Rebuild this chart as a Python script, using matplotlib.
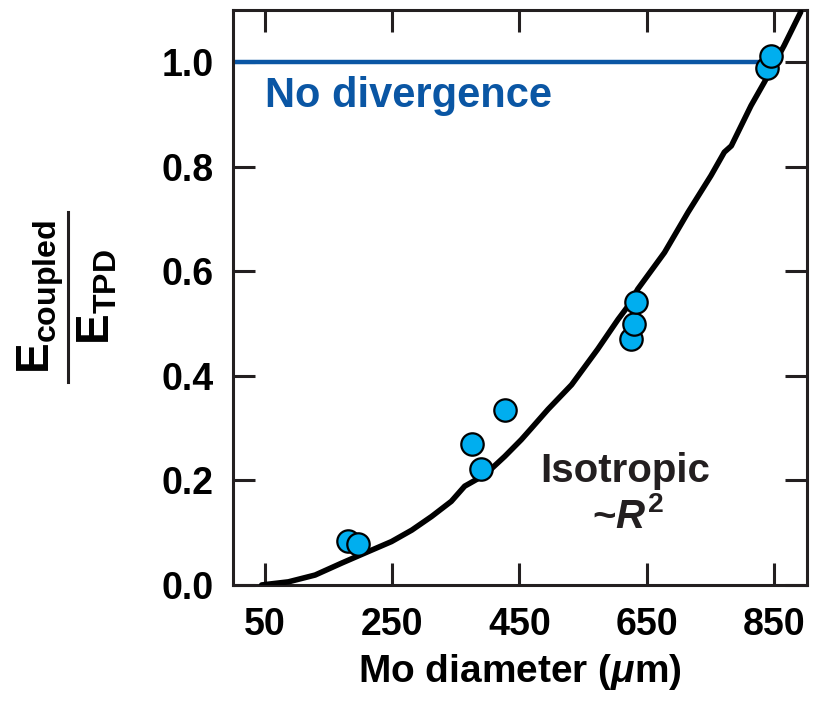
import matplotlib
matplotlib.use('Agg')
import matplotlib.pyplot as plt
from matplotlib.lines import Line2D

diam = [181, 197, 376, 389, 428, 626, 630, 634, 839, 845]
ratio = [0.085, 0.079, 0.270, 0.221, 0.334, 0.470, 0.499, 0.541, 0.989, 1.012]

# isotropic ~R^2 guide curve
curve_x = [45, 87, 129, 171, 207, 249, 281, 312, 343, 364, 396, 427, 453, 469,
           495, 532, 573, 605, 621, 636, 678, 715, 751, 772, 783, 814, 835, 866, 892]
curve_y = [0.0, 0.006, 0.019, 0.042, 0.061, 0.083, 0.105, 0.131, 0.160, 0.189,
           0.211, 0.246, 0.278, 0.300, 0.336, 0.383, 0.451, 0.508, 0.534, 0.566,
           0.636, 0.713, 0.783, 0.828, 0.840, 0.917, 0.962, 1.032, 1.096]

xticks = [50, 250, 450, 650, 850]
yticks = [0.0, 0.2, 0.4, 0.6, 0.8, 1.0]

plt.rcParams['font.family'] = ['Liberation Sans', 'DejaVu Sans']
plt.rcParams['font.weight'] = 'bold'
plt.rcParams['mathtext.fontset'] = 'custom'
plt.rcParams['mathtext.rm'] = 'Liberation Sans:bold'
plt.rcParams['mathtext.bf'] = 'Liberation Sans:bold'
plt.rcParams['mathtext.it'] = 'Liberation Sans:bold:italic'

dark = '#231f20'
blue = '#0a56a4'

W, H = 822, 703
fig = plt.figure(figsize=(W / 100, H / 100), dpi=100)
ax = fig.add_axes([0.2835, 0.1679, 0.6983, 0.8179])

# no divergence line
ax.plot([0, 830], [1.0, 1.0], color=blue, lw=3.2, solid_capstyle='butt', zorder=2)
ax.plot(curve_x, curve_y, color='black', lw=4, solid_capstyle='round', zorder=3)
ax.scatter(diam, ratio, s=260, c='#00aeef', edgecolors='black', linewidths=1.6, zorder=4)

ax.text(50, 0.915, 'No divergence', color=blue, fontsize=30, fontweight='bold',
        ha='left', va='baseline')
ax.text(616, 0.1975, 'Isotropic', color=dark, fontsize=29, fontweight='bold',
        ha='center', va='baseline')
ax.text(621, 0.109, r'~$\mathit{R}^{2}$', color=dark, fontsize=29, fontweight='bold',
        ha='center', va='baseline')

ax.set_xlim(0, 902)
ax.set_ylim(0, 1.1)
ax.set_xticks(xticks)
ax.set_yticks(yticks)
ax.set_xticklabels([str(v) for v in xticks])
ax.set_yticklabels([f'{v:.1f}' for v in yticks])

ax.tick_params(direction='in', length=16, width=2.2, color=dark,
               top=True, right=True, labelsize=27)
ax.tick_params(axis='x', pad=16)
ax.tick_params(axis='y', pad=14)
for sp in ax.spines.values():
    sp.set_linewidth(2.2)
    sp.set_color(dark)

ax.set_xlabel(r'Mo diameter ($\mu$m)', fontsize=28, fontweight='bold', labelpad=6)

# y label drawn as a stacked fraction: E_coupled over E_TPD
yc = 1 - 297 / H
fig.text(66 / W, yc, r'E$_{\mathrm{coupled}}$', rotation=90, fontsize=33,
         fontweight='bold', ha='right', va='center', color='black')
fig.text(75 / W, yc, r'E$_{\mathrm{TPD}}$', rotation=90, fontsize=33,
         fontweight='bold', ha='left', va='center', color='black')
fig.add_artist(Line2D([68 / W, 68 / W], [1 - 382 / H, 1 - 212 / H],
                      color=dark, lw=2.2, transform=fig.transFigure))

fig.savefig('out.png', dpi=100)
